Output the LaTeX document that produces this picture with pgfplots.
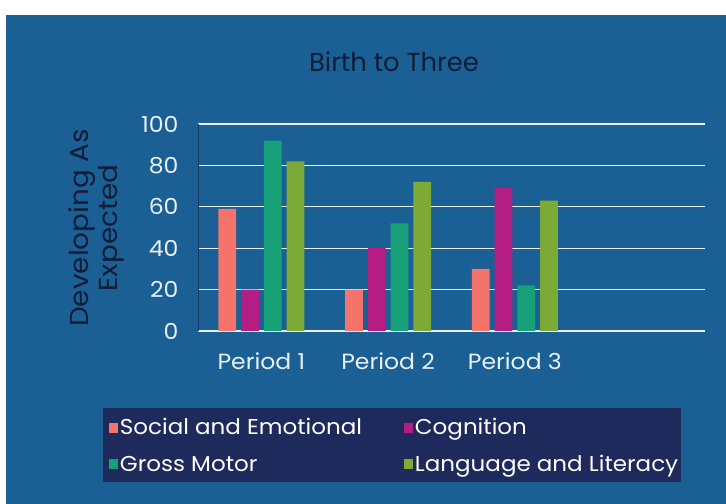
\documentclass[border=0pt]{standalone}
\usepackage{fontspec}
\setmainfont{Poppins}[FakeStretch=1.07]
\usepackage{pgfplots}
\pgfplotsset{compat=1.18}

\definecolor{bgblue}{RGB}{27,96,148}
\definecolor{legnavy}{RGB}{30,42,92}
\definecolor{darktext}{RGB}{18,28,56}
\definecolor{ticktext}{RGB}{232,240,248}
\definecolor{socemo}{RGB}{244,115,106}
\definecolor{cognit}{RGB}{180,30,130}
\definecolor{grossm}{RGB}{24,160,120}
\definecolor{langlit}{RGB}{125,170,55}

\begin{document}
\begin{tikzpicture}
  % page background and border
  \fill[white] (0bp,0bp) rectangle (726bp,504bp);
  \fill[bgblue] (6bp,0bp) rectangle (726bp,489bp);
  % legend box
  \fill[legnavy] (103bp,22bp) rectangle (681bp,96bp);
  % title and y label
  \node[darktext, font=\fontsize{26bp}{30bp}\selectfont] at (394bp,442bp) {\scalebox{0.93}[1]{Birth to Three}};
  \node[darktext, rotate=90, align=center, font=\fontsize{26bp}{29bp}\selectfont] at (96bp,276bp) {Developing As\\Expected};

  \begin{axis}[
    at={(198bp,173bp)}, anchor=south west,
    scale only axis,
    width=507bp, height=207bp,
    xmin=-0.5, xmax=3.5,
    ymin=0, ymax=100,
    ytick={0,20,...,100},
    xtick={0,1,2},
    xticklabels={Period 1, Period 2, Period 3},
    major tick length=0pt,
    axis line style={draw=none},
    ymajorgrids=true,
    grid style={ticktext, line width=1.3bp},
    /pgf/number format/assume math mode=true,
    yticklabel style={ticktext, font=\fontsize{22bp}{26bp}\selectfont, xshift=-16bp},
    xticklabel style={ticktext, font=\fontsize{22bp}{26bp}\selectfont, yshift=-18bp},
    legend columns=2,
    legend cell align=left,
    legend style={
      at={(-0.182,-0.403)}, anchor=north west,
      draw=none, fill=none,
      text=white,
      font=\fontsize{21.5bp}{25bp}\selectfont,
      row sep=15bp,
      /tikz/every even column/.append style={column sep=40bp},
    },
    legend image code/.code={\fill[#1] (0bp,-5bp) rectangle (9bp,5bp);},
  ]
    \addplot[ybar, bar width=0.14, bar shift=-0.27, fill=socemo, draw=none]
      coordinates {(0,59) (1,20) (2,30)};
    \addlegendentry{Social and Emotional}
    \addplot[ybar, bar width=0.14, bar shift=-0.09, fill=cognit, draw=none]
      coordinates {(0,20) (1,40) (2,69)};
    \addlegendentry{Cognition}
    \addplot[ybar, bar width=0.14, bar shift=0.09, fill=grossm, draw=none]
      coordinates {(0,92) (1,52) (2,22)};
    \addlegendentry{Gross Motor}
    \addplot[ybar, bar width=0.14, bar shift=0.27, fill=langlit, draw=none]
      coordinates {(0,82) (1,72) (2,63)};
    \addlegendentry{Language and Literacy}
    \draw[legnavy!80!bgblue, line width=1bp] (axis cs:-0.5,0) -- (axis cs:-0.5,100);
  \end{axis}
\end{tikzpicture}
\end{document}
